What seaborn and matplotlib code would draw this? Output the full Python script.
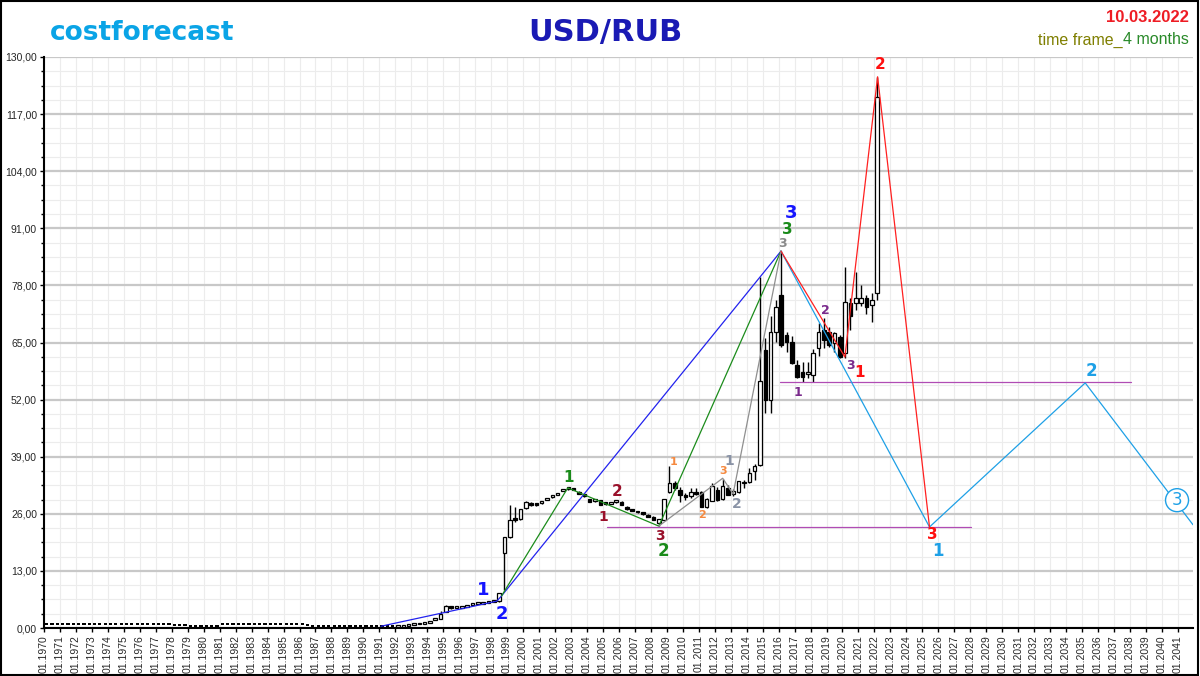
import matplotlib
matplotlib.use("Agg")
import matplotlib.pyplot as plt
from matplotlib.patches import Rectangle
import numpy as np
import seaborn as sns

# --- 4-month candles, USD/RUB ---
first_year = 1970
# 1970-1991: official rate, practically flat (3 candles per year)
soviet_close = [
    0.90, 0.90, 0.90,  0.88, 0.88, 0.86,  0.84, 0.84, 0.84,  0.82, 0.82, 0.82,
    0.82, 0.82, 0.82,  0.80, 0.80, 0.80,  0.82, 0.82, 0.82,  0.80, 0.80, 0.80,
    0.58, 0.58, 0.58,  0.56, 0.56, 0.56,  0.56, 0.56, 0.56,  0.80, 0.80, 0.80,
    0.82, 0.82, 0.82,  0.82, 0.82, 0.82,  0.84, 0.84, 0.84,  0.84, 0.84, 0.84,
    0.80, 0.58, 0.56,  0.56, 0.56, 0.56,  0.55, 0.55, 0.55,  0.55, 0.55, 0.55,
    0.55, 0.55, 0.55,  0.56, 0.56, 0.56,
]
# 1992 (Jan-Apr) .. 2022 (Jan-Apr)
opens = [
    0.25, 0.30, 0.45,  0.65, 0.80, 1.00,  1.25, 1.75, 2.10,  3.60, 5.00, 4.50,
    4.65, 4.80, 5.20,  5.40, 5.55, 5.75,  5.90, 6.10, 17.1,  20.8, 24.8, 24.8,
    27.3, 28.4, 28.2,  28.4, 29.2, 29.8,  30.3, 31.2, 31.6,  31.8, 31.0, 30.4,
    29.3, 28.9, 29.1,  28.6, 28.3, 28.6,  28.8, 27.6, 27.0,  26.6, 26.3, 25.8,
    25.3, 24.0, 24.6,  31.0, 33.0, 31.5,  30.3, 30.1, 31.0,  31.0, 27.6, 28.9,
    31.4, 29.3, 31.9,  30.6, 31.0, 32.9,  33.3, 35.7, 37.1,  63.3, 51.9, 67.4,
    75.8, 66.7, 65.1,  59.9, 58.3, 57.8,  57.6, 63.8, 67.8,  67.4, 64.9, 66.3,
    62.6, 74.0, 74.0,  74.0, 75.1, 73.5,  76.3,
]
highs = [
    0.30, 0.45, 0.65,  0.80, 1.00, 1.20,  1.70, 2.10, 3.90,  5.20, 5.10, 4.70,
    4.85, 5.25, 5.45,  5.55, 5.80, 5.95,  6.20, 8.00, 20.8,  28.0, 27.6, 27.2,
    28.9, 28.6, 28.3,  28.8, 29.6, 30.3,  30.8, 31.6, 31.9,  31.9, 31.2, 30.5,
    29.4, 29.2, 29.2,  28.7, 28.7, 29.0,  28.9, 27.7, 27.1,  26.7, 26.4, 25.9,
    25.4, 24.9, 29.4,  36.9, 33.4, 32.0,  30.7, 31.9, 31.9,  31.2, 29.6, 32.9,
    32.0, 34.0, 32.6,  31.6, 33.5, 33.6,  36.5, 37.3, 79.9,  66.0, 71.0, 74.6,
    85.8, 67.4, 66.5,  61.0, 60.6, 60.6,  63.5, 69.4, 70.6,  68.5, 67.4, 66.7,
    82.2, 75.2, 81.0,  78.1, 75.8, 76.3,  125.5,
]
lows = [
    0.25, 0.30, 0.45,  0.65, 0.80, 1.00,  1.25, 1.75, 2.10,  3.60, 4.40, 4.45,
    4.60, 4.80, 5.20,  5.40, 5.55, 5.75,  5.90, 6.00, 8.70,  20.6, 24.2, 24.6,
    27.0, 27.8, 27.8,  28.3, 29.1, 29.7,  30.2, 31.1, 31.5,  31.4, 30.4, 29.9,
    28.7, 28.8, 27.9,  28.1, 28.2, 28.5,  28.0, 26.9, 26.6,  26.2, 25.8, 25.2,
    24.5, 23.2, 24.5,  30.8, 31.4, 28.7,  29.1, 29.6, 30.2,  27.5, 27.3, 28.9,
    28.9, 29.2, 30.2,  30.0, 30.8, 31.9,  33.0, 33.7, 36.8,  49.0, 49.0, 65.2,
    64.0, 62.8, 60.0,  56.9, 56.0, 57.0,  56.0, 61.9, 63.8,  64.0, 62.8, 61.5,
    61.5, 67.8, 72.4,  73.3, 71.6, 69.7,  74.7,
]
closes = [
    0.30, 0.45, 0.65,  0.80, 1.00, 1.20,  1.70, 2.10, 3.30,  5.10, 4.60, 4.65,
    4.80, 5.20, 5.40,  5.55, 5.75, 5.90,  6.10, 7.90, 20.7,  24.6, 24.5, 27.0,
    28.8, 27.9, 27.9,  28.8, 29.6, 30.3,  30.7, 31.6, 31.8,  31.5, 30.5, 30.0,
    28.8, 29.1, 28.0,  28.3, 28.6, 28.9,  28.1, 27.0, 26.7,  26.3, 25.9, 25.3,
    24.6, 24.8, 29.3,  33.1, 31.9, 30.2,  29.8, 31.0, 30.5,  27.6, 29.3, 32.3,
    29.1, 32.3, 30.3,  31.1, 33.4, 33.2,  35.4, 36.9, 56.2,  51.9, 67.4, 73.1,
    64.4, 65.1, 60.3,  57.1, 57.1, 58.1,  62.6, 67.4, 65.5,  64.4, 67.2, 61.7,
    74.2, 71.0, 75.1,  75.1, 73.1, 74.7,  121.0,
]

# --- wave markup ---
blue_x = [1991.1, 1998.35, 1998.65, 2016.15]
blue_y = [0.4, 6.1, 7.3, 85.8]
green_x = [1998.65, 2002.8, 2008.5, 2016.15]
green_y = [7.3, 31.9, 23.2, 85.8]
gray_x = [2008.5, 2012.5, 2013.15, 2016.15]
gray_y = [23.2, 34.1, 30.5, 85.8]
red_x = [2016.15, 2020.15, 2022.2, 2025.45]
red_y = [85.8, 61.7, 125.5, 23.0]
sky_x = [2016.15, 2025.45, 2035.2, 2041.95]
sky_y = [85.8, 23.0, 55.8, 23.5]
support_low_x = [2005.25, 2028.05]
support_low_y = [23.0, 23.0]
support_high_x = [2016.08, 2038.08]
support_high_y = [56.0, 56.0]

wave_labels = [
    ("1", 1997.5, 8.6, "#1515ff", 13), ("2", 1998.7, 3.3, "#1515ff", 13),
    ("3", 2016.75, 94.5, "#1515ff", 13),
    ("1", 2002.85, 34.2, "#1a8a1a", 11), ("2", 2008.8, 17.6, "#1a8a1a", 12),
    ("3", 2016.55, 90.8, "#1a8a1a", 11),
    ("1", 2005.05, 25.3, "#99102a", 10), ("2", 2005.9, 31.0, "#99102a", 11),
    ("3", 2008.55, 21.0, "#99102a", 10),
    ("1", 2009.4, 37.8, "#f5893f", 8), ("2", 2011.2, 25.7, "#f5893f", 8),
    ("3", 2012.5, 35.7, "#f5893f", 8),
    ("1", 2012.9, 38.0, "#8a93a6", 10), ("2", 2013.35, 28.2, "#8a93a6", 10),
    ("3", 2016.25, 87.6, "#8a8a8a", 9),
    ("1", 2017.2, 53.7, "#7a2a8c", 9), ("2", 2018.95, 72.2, "#7a2a8c", 9),
    ("3", 2020.5, 59.7, "#7a2a8c", 9),
    ("1", 2021.1, 58.1, "#ff1010", 11), ("2", 2022.35, 128.2, "#ff1010", 11),
    ("3", 2025.6, 21.2, "#ff1010", 11),
    ("1", 2026.0, 17.5, "#1ea0e6", 12), ("2", 2035.6, 58.5, "#1ea0e6", 12),
]

x_years = list(range(1970, 2042))
x_labels = [f"01.{y}" for y in x_years]
y_ticks = [0, 13, 26, 39, 52, 65, 78, 91, 104, 117, 130]
y_labels = [f"{v},00" for v in y_ticks]

sns.set_style("white")
plt.rcParams["font.family"] = ["Liberation Sans", "DejaVu Sans"]

fig = plt.figure(figsize=(12, 6.76), dpi=100)
ax = fig.add_axes([44 / 1200, 48 / 676, 1149 / 1200, 571 / 676])

# candles
n_sov = len(soviet_close)
t_sov = first_year + (np.arange(n_sov) + 0.5) / 3
ax.bar(t_sov, 0.45, width=0.2, bottom=np.array(soviet_close) - 0.22,
       color="black", linewidth=0, zorder=3)

o = np.array(opens); h = np.array(highs); l = np.array(lows); c = np.array(closes)
t = first_year + (n_sov + np.arange(len(o)) + 0.5) / 3
up = c >= o
ax.vlines(t, l, h, color="black", lw=1.0, zorder=3)
body_lo = np.minimum(o, c)
body_h = np.maximum(np.abs(c - o), 0.45)
ax.bar(t[up], body_h[up], width=0.22, bottom=body_lo[up], facecolor="white",
       edgecolor="black", linewidth=0.9, zorder=4)
ax.bar(t[~up], body_h[~up], width=0.22, bottom=body_lo[~up], facecolor="black",
       edgecolor="black", linewidth=0.9, zorder=4)

# wave lines
for xs, ys, col in [(support_low_x, support_low_y, "#b04cb4"),
                    (support_high_x, support_high_y, "#b04cb4"),
                    (blue_x, blue_y, "#2222ee"),
                    (green_x, green_y, "#1b8c1b"),
                    (gray_x, gray_y, "#8f8f8f"),
                    (sky_x, sky_y, "#1ea0e6"),
                    (red_x, red_y, "#ff2020")]:
    sns.lineplot(x=xs, y=ys, sort=False, estimator=None, color=col, lw=0.9,
                 ax=ax, zorder=5, legend=False)

for txt, x, y, col, size in wave_labels:
    ax.text(x, y, txt, color=col, fontsize=size, fontweight="bold",
            family="DejaVu Sans", ha="center", va="center", zorder=6)
ax.text(2040.95, 29.1, "3", color="#1ea0e6", fontsize=12, ha="center",
        va="center", family="DejaVu Sans", zorder=6,
        bbox=dict(boxstyle="circle,pad=0.15", fc="white", ec="#1ea0e6", lw=1))

# axes styling
ax.set_xlim(1970, 2041.95)
ax.set_ylim(0, 130)
ax.set_xticks(x_years)
ax.set_xticklabels(x_labels, rotation=90, fontsize=7.5)
ax.set_yticks(y_ticks)
ax.set_yticklabels(y_labels, fontsize=7.5)
ax.set_yticks(np.arange(0, 130.1, 3.25), minor=True)
ax.tick_params(axis="both", which="both", direction="out", length=3, width=1,
               color="black", pad=2, left=True, bottom=True)
ax.tick_params(axis="y", which="minor", length=2)
ax.grid(which="minor", axis="y", color="#ececec", lw=0.8)
ax.grid(which="major", axis="y", color="#c8c8c8", lw=1.6)
ax.grid(which="major", axis="x", color="#ececec", lw=0.8)
ax.set_axisbelow(True)
for side in ["top", "right"]:
    ax.spines[side].set_visible(False)
for side in ["left", "bottom"]:
    ax.spines[side].set_color("black")
    ax.spines[side].set_linewidth(1.5)

# header texts
fig.text(50 / 1200, 1 - 33 / 676, "costforecast", color="#0aa4e6", fontsize=19,
         fontweight="bold", family="DejaVu Sans", ha="left", va="center")
fig.text(605 / 1200, 1 - 33 / 676, "USD/RUB", color="#1a1ab4", fontsize=22,
         fontweight="bold", family="DejaVu Sans", ha="center", va="center")
fig.text(1189 / 1200, 1 - 18 / 676, "10.03.2022", color="#ee1c24", fontsize=12,
         fontweight="bold", ha="right", va="center")
t1 = fig.text(1189 / 1200, 1 - 40 / 676, "4 months", color="#2a8a2a",
              fontsize=11.5, ha="right", va="center")
fig.canvas.draw()
bb = t1.get_window_extent()
fig.text(bb.x0 / 1200, 1 - 40 / 676, "time frame_", color="#7f7f00",
         fontsize=11.5, ha="right", va="center")

fig.patches.append(Rectangle((0.001, 0.002), 0.997, 0.996, transform=fig.transFigure,
                             fill=False, edgecolor="black", lw=1.5))

fig.savefig("out.png", dpi=100, facecolor="white")
